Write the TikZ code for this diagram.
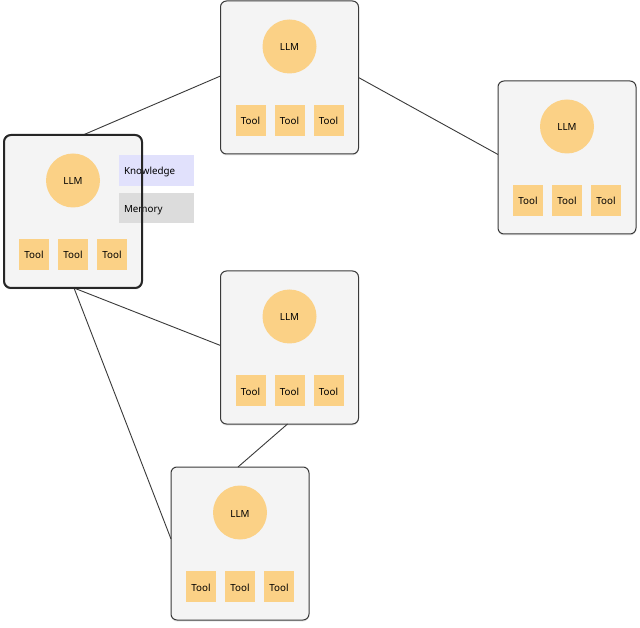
\documentclass[tikz,border=0pt]{standalone}
\usepackage{fontspec}
\setmainfont{Noto Sans}
\usetikzlibrary{calc,shadows}
\definecolor{boxfill}{HTML}{F4F4F4}
\definecolor{boxline}{HTML}{3A3A3A}
\definecolor{llmfill}{HTML}{FBD186}
\definecolor{knowfill}{HTML}{E1E1FC}
\definecolor{memfill}{HTML}{DCDCDC}
\tikzset{
  agentbox/.style={draw=boxline, line width=1pt, fill=boxfill, rounded corners=6pt,
    minimum width=138pt, minimum height=153pt, outer sep=0pt, inner sep=0pt,
    drop shadow={opacity=0.18, shadow xshift=0pt, shadow yshift=-1.5pt}},
  txt/.style={font=\fontsize{9.8}{11}\selectfont, text height=9pt, text depth=0pt},
  llm/.style={txt, circle, fill=llmfill, minimum size=54pt, inner sep=0pt},
  tool/.style={txt, rectangle, fill=llmfill, minimum width=30pt, minimum height=31pt, inner sep=0pt},
  tag/.style={txt, rectangle, text width=65pt, align=left, inner xsep=5pt, inner ysep=0pt},
  link/.style={draw=boxline, line width=0.9pt},
}
\newcommand{\agentcontent}[1]{%
  \node[llm] (#1llm) at ($(#1.center)+(0,-31)$) {LLM};
  \node[tool] (#1t1) at ($(#1.center)+(-39,43)$) {Tool};
  \node[tool] (#1t2) at ($(#1.center)+(0,43)$) {Tool};
  \node[tool] (#1t3) at ($(#1.center)+(39,43)$) {Tool};
}
\begin{document}
\begin{tikzpicture}[x=1pt,y=-1pt]
\useasboundingbox[fill=white] (0,0) rectangle (640,628);
% boxes
\node[agentbox] (B) at (289.5,77.5) {};
\node[agentbox] (C) at (567,157.5) {};
\node[agentbox] (D) at (289.5,347.5) {};
\node[agentbox] (E) at (240,543.5) {};
\node[agentbox] (A) at (73,211.5) {};
% connectors
\draw[link] ($(A.north)+(10,0)$) -- ($(B.west)+(0,-1.5)$);
\draw[link] (B.east) -- ($(C.west)+(0,-3)$);
\draw[link] ($(A.south)+(1,0)$) -- ($(D.west)+(0,-2)$);
\draw[link] ($(A.south)+(1,0)$) -- ($(E.west)+(0,-4.5)$);
\draw[link] ($(D.south)+(-2,0)$) -- ($(E.north)+(-2,0)$);
% contents
\agentcontent{A}
\agentcontent{B}
\agentcontent{C}
\agentcontent{D}
\agentcontent{E}
\node[tag, fill=knowfill, minimum height=31pt] (know) at (156.5,170.5) {Knowledge};
\node[tag, fill=memfill, minimum height=30pt] (mem) at (156.5,208) {Memory};
% selected box border on top
\draw[draw=black!85, line width=2pt, rounded corners=7pt] (A.south west) rectangle (A.north east);
\end{tikzpicture}
\end{document}
